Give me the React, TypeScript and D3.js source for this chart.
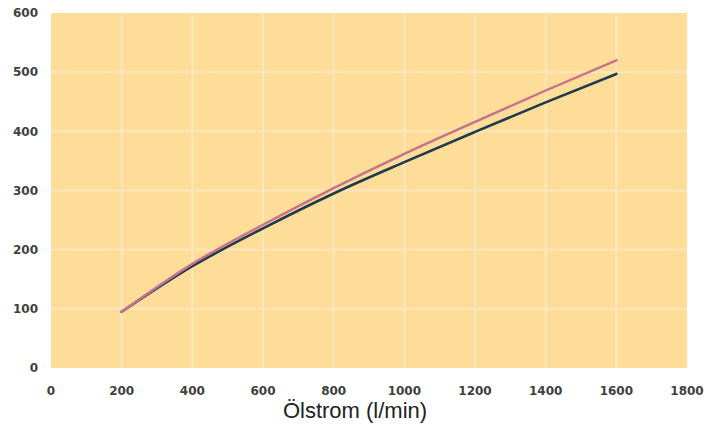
import React from "react";
import * as d3 from "d3";

const flowValues = [200, 400, 600, 800, 1000, 1200, 1400, 1600];
const darkSeries = [95, 172, 236, 295, 348, 399, 449, 497];
const pinkSeries = [95, 176, 242, 304, 362, 416, 469, 520];
const xTicks = [0, 200, 400, 600, 800, 1000, 1200, 1400, 1600, 1800];
const yTicks = [0, 100, 200, 300, 400, 500, 600];
const xTitle = "Ölstrom (l/min)";

const W = 716;
const H = 425;
const M = { left: 51, right: 29, top: 13, bottom: 57 };

export default function App() {
  const x = d3.scaleLinear().domain([0, 1800]).range([M.left, W - M.right]);
  const y = d3.scaleLinear().domain([0, 600]).range([H - M.bottom, M.top]);
  const line = d3
    .line<number>()
    .x((_, i) => x(flowValues[i]))
    .y((d) => y(d))
    .curve(d3.curveMonotoneX);

  const tickFont = "'DejaVu Sans', sans-serif";
  const titleFont = "'Liberation Sans', Arial, sans-serif";

  return (
    <svg
      width={W}
      height={H}
      style={{ position: "absolute", left: 0, top: 0, background: "#fff" }}
    >
      <rect
        x={x(0)}
        y={y(600)}
        width={x(1800) - x(0)}
        height={y(0) - y(600)}
        fill="#FDDD98"
      />
      {xTicks.slice(1, -1).map((t) => (
        <line
          key={"gx" + t}
          x1={x(t)}
          x2={x(t)}
          y1={y(600)}
          y2={y(0)}
          stroke="#FCE6BC"
          strokeWidth={2}
        />
      ))}
      {yTicks.slice(1, -1).map((t) => (
        <line
          key={"gy" + t}
          x1={x(0)}
          x2={x(1800)}
          y1={y(t)}
          y2={y(t)}
          stroke="#FCE6BC"
          strokeWidth={2}
        />
      ))}
      <path
        d={line(darkSeries) || ""}
        fill="none"
        stroke="#1F3A4C"
        strokeWidth={2.6}
        strokeLinecap="round"
      />
      <path
        d={line(pinkSeries) || ""}
        fill="none"
        stroke="#C9718C"
        strokeWidth={2.4}
        strokeLinecap="round"
      />
      {yTicks.map((t) => (
        <text
          key={"ty" + t}
          x={38}
          y={y(t)}
          dy="0.35em"
          textAnchor="end"
          fontFamily={tickFont}
          fontSize={12}
          fontWeight="bold"
          fill="#404040"
        >
          {t}
        </text>
      ))}
      {xTicks.map((t) => (
        <text
          key={"tx" + t}
          x={x(t)}
          y={391}
          dy="0.35em"
          textAnchor="middle"
          fontFamily={tickFont}
          fontSize={12}
          fontWeight="bold"
          fill="#404040"
        >
          {t}
        </text>
      ))}
      <text
        x={355}
        y={418}
        textAnchor="middle"
        fontFamily={titleFont}
        fontSize={22}
        fill="#222"
      >
        {xTitle}
      </text>
    </svg>
  );
}
